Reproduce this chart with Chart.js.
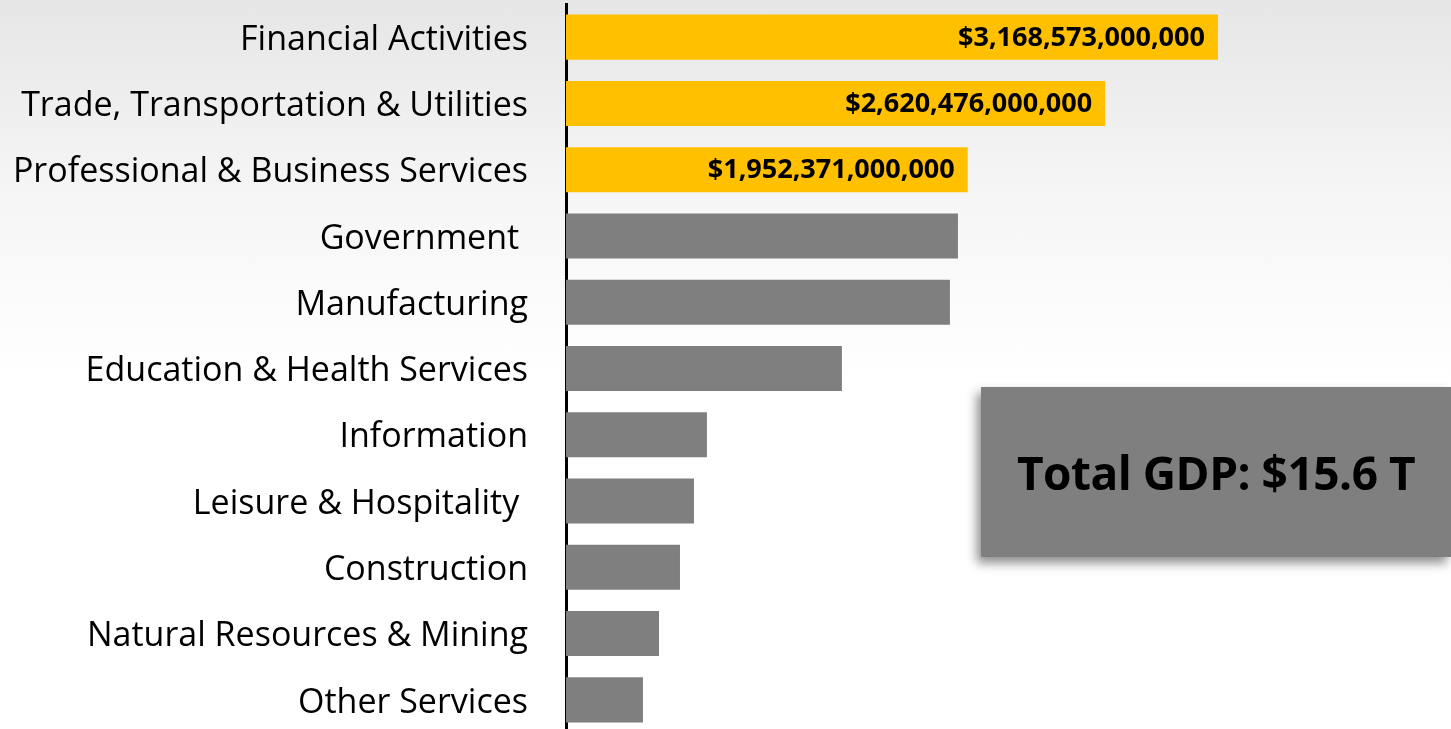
<!DOCTYPE html>
<html>
<head>
<meta charset="utf-8">
<script src="https://cdn.jsdelivr.net/npm/chart.js@4"></script>
<style>
  html, body { margin: 0; padding: 0; width: 1451px; height: 729px; overflow: hidden; }
  body { background: linear-gradient(to bottom, #e6e6e6 0px, #f6f6f6 200px, #ffffff 380px, #ffffff 729px); position: relative; }
  #wrap { position: absolute; left: 0; top: 0; width: 1451px; height: 740px; }
  #gdpBox {
    position: absolute; left: 981px; top: 387px; width: 470px; height: 170px;
    background: #7f7f7f; box-shadow: -4px 6px 10px rgba(0,0,0,0.45);
    font-family: "Open Sans", sans-serif; font-weight: bold; font-size: 46px; color: #000;
    display: flex; align-items: center; justify-content: center; letter-spacing: -0.5px;
  }
</style>
</head>
<body>
<div id="wrap"><canvas id="gdpChart"></canvas></div>
<div id="gdpBox">Total GDP: $15.6 T</div>
<script>
// Sectores y su aporte al PIB (millones de dólares)
const sectores = ['Financial Activities', 'Trade, Transportation & Utilities', 'Professional & Business Services',
  'Government ', 'Manufacturing', 'Education & Health Services', 'Information', 'Leisure & Hospitality ',
  'Construction', 'Natural Resources & Mining', 'Other Services'];
const valores = [3168573, 2620476, 1952371, 1905000, 1866000, 1341000, 685000, 622000, 554000, 452000, 374000];
const destacados = [true, true, true, false, false, false, false, false, false, false, false];

const colores = destacados.map(d => d ? '#ffc000' : '#7f7f7f');

// Etiquetas de valor dentro de las barras destacadas
const etiquetasValor = {
  id: 'etiquetasValor',
  afterDatasetsDraw(chart) {
    const ctx = chart.ctx;
    const meta = chart.getDatasetMeta(0);
    ctx.save();
    ctx.font = 'bold 27px "Open Sans", sans-serif';
    ctx.fillStyle = '#000';
    ctx.textAlign = 'right';
    ctx.textBaseline = 'middle';
    meta.data.forEach((bar, i) => {
      if (!destacados[i]) return;
      const txt = '$' + valores[i].toLocaleString('en-US') + ',000,000';
      ctx.fillText(txt, bar.x - 13, bar.y + 1);
    });
    ctx.restore();
  }
};

new Chart(document.getElementById('gdpChart'), {
  type: 'bar',
  data: {
    labels: sectores,
    datasets: [{
      data: valores,
      backgroundColor: colores,
      barPercentage: 0.68,
      categoryPercentage: 1
    }]
  },
  options: {
    indexAxis: 'y',
    responsive: true,
    maintainAspectRatio: false,
    animation: false,
    layout: { padding: { top: 4, right: 62, bottom: 7, left: 0 } },
    plugins: { legend: { display: false }, tooltip: { enabled: false } },
    scales: {
      x: {
        min: 0, max: 4000000,
        display: false
      },
      y: {
        afterFit: (s) => { s.width = 566; s.paddingTop = 0; s.paddingBottom = 0; },
        grid: { display: false, drawTicks: false },
        border: { display: true, color: '#000', width: 3 },
        ticks: {
          color: '#000',
          padding: 38,
          labelOffset: 3,
          font: { family: '"Open Sans", sans-serif', size: 34 }
        }
      }
    }
  },
  plugins: [etiquetasValor]
});
</script>
</body>
</html>
